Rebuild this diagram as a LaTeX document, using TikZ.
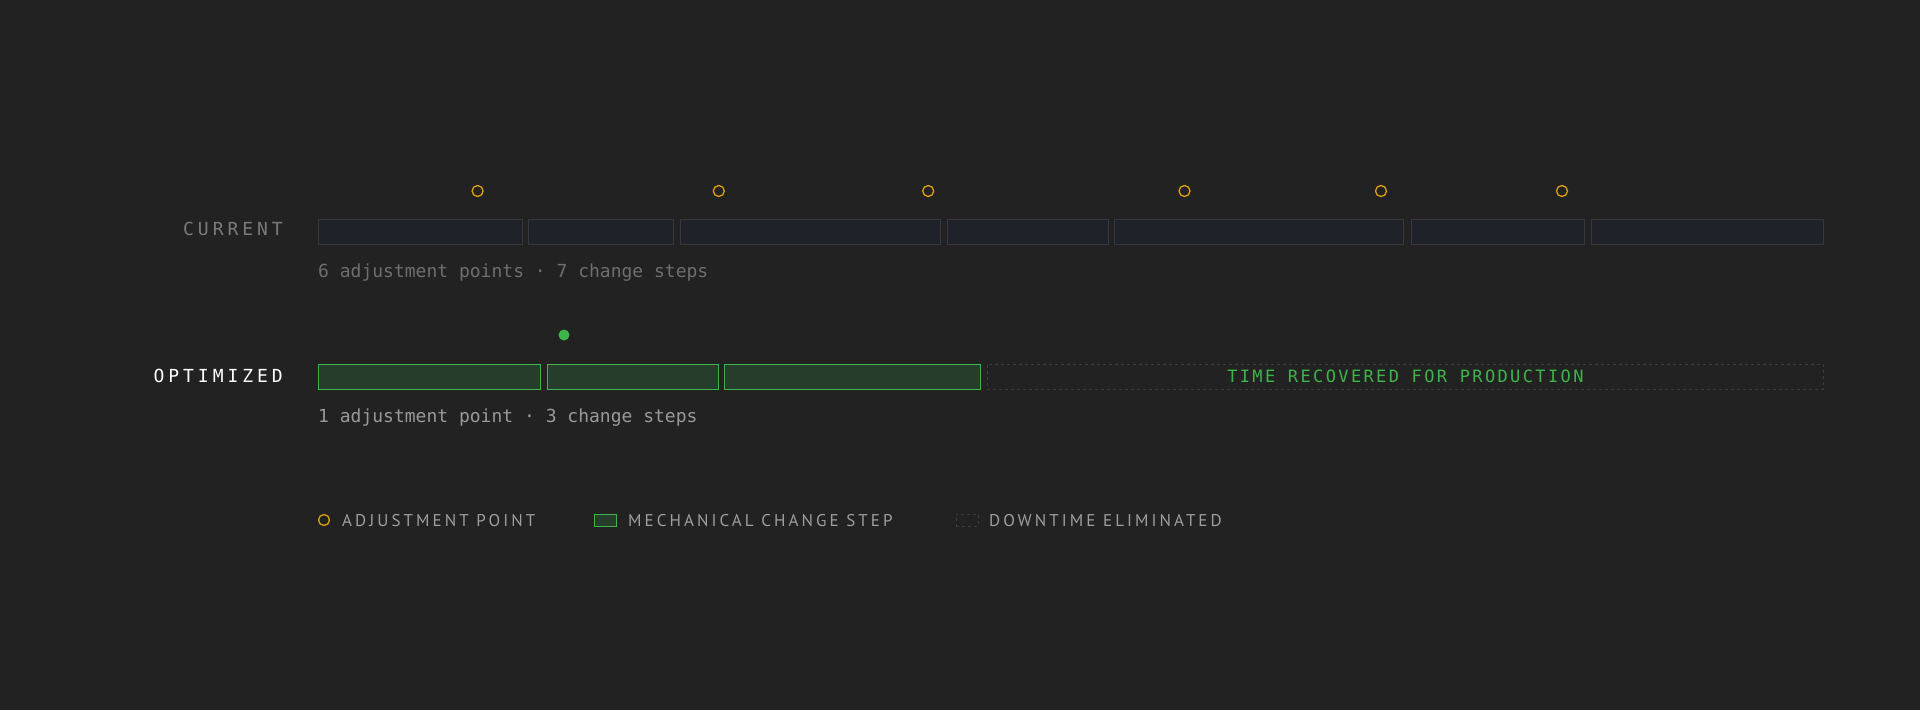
\documentclass[tikz,border=0pt]{standalone}
\usepackage{fontspec}
\setmonofont{DejaVu Sans Mono}
\newfontfamily\rowfont[LetterSpace=22]{DejaVu Sans Mono}
\newfontfamily\gainfont[LetterSpace=14]{DejaVu Sans Mono}
\newfontfamily\keyfont[LetterSpace=18]{PT Sans}
\definecolor{bgclr}{HTML}{222222}
\definecolor{adjclr}{HTML}{DDA20A}
\definecolor{slotfill}{HTML}{1F2329}
\definecolor{slotline}{HTML}{34383E}
\definecolor{stepline}{HTML}{3DB54A}
\definecolor{stepfill}{HTML}{263D2B}
\definecolor{gapline}{HTML}{3C3C3C}

\begin{document}
\begin{tikzpicture}[x=1pt, y=-1pt,
    slot/.style={draw=slotline, fill=slotfill, line width=1pt, inner sep=0pt,
        minimum height=25, anchor=north west},
    stepbox/.style={draw=stepline, fill=stepfill, line width=1.2pt, inner sep=0pt,
        minimum height=25, anchor=north west},
    gapbox/.style={draw=gapline, dashed, line width=0.8pt, inner sep=0pt,
        minimum height=25, anchor=north west},
    adjpt/.style={circle, draw=adjclr, line width=1.3pt, inner sep=0pt, minimum size=11},
    rowlabel/.style={anchor=base east, inner sep=0pt, font=\rowfont\fontsize{18}{18}\selectfont},
    caption/.style={anchor=base west, inner sep=0pt, font=\ttfamily\fontsize{18}{18}\selectfont},
    keytext/.style={anchor=base west, inner sep=0pt, text=black!38!white,
        font=\keyfont\fontsize{17}{17}\selectfont}]
    \fill[bgclr] (0,0) rectangle (1920,710);
    \useasboundingbox (0,0) rectangle (1920,710);

    % current changeover
    \node[rowlabel, text=black!52!white] (curlabel) at (283,235) {CURRENT};
    \foreach \a/\b [count=\i] in {318/522,528/673,680/940,947/1108,1114/1403,1411/1584,1591/1823} {
        \node[slot, minimum width=\b-\a] (cur\i) at (\a,219) {};
    }
    \foreach \x [count=\i] in {477.6,718.8,928.2,1184.5,1381,1562} {
        \node[adjpt] (adj\i) at (\x,191) {};
    }
    \node[caption, text=black!57!white] (curnote) at (318,277) {6 adjustment points · 7 change steps};

    % optimized changeover
    \node[rowlabel, text=white] (optlabel) at (283,382.5) {OPTIMIZED};
    \foreach \a/\b [count=\i] in {318/540,547/717.5,724/980} {
        \node[stepbox, minimum width=\b-\a] (opt\i) at (\a,363.5) {};
    }
    \node[circle, fill=stepline, inner sep=0pt, minimum size=11] (optadj) at (564,335) {};
    \node[gapbox, minimum width=836, text=stepline, font=\gainfont\fontsize{17}{17}\selectfont]
        (gain) at (987,363.5) {TIME RECOVERED FOR PRODUCTION};
    \node[caption, text=black!40!white] (optnote) at (318,422) {1 adjustment point · 3 change steps};

    % legend
    \node[adjpt] (keyadj) at (324,520) {};
    \node[keytext] (keyadjtext) at (342,526) {ADJUSTMENT POINT};
    \node[stepbox, minimum width=22, minimum height=12] (keystep) at (594,514) {};
    \node[keytext] (keysteptext) at (628,526) {MECHANICAL CHANGE STEP};
    \node[gapbox, minimum width=22, minimum height=12] (keygap) at (956,514) {};
    \node[keytext] (keygaptext) at (989,526) {DOWNTIME ELIMINATED};
\end{tikzpicture}
\end{document}
